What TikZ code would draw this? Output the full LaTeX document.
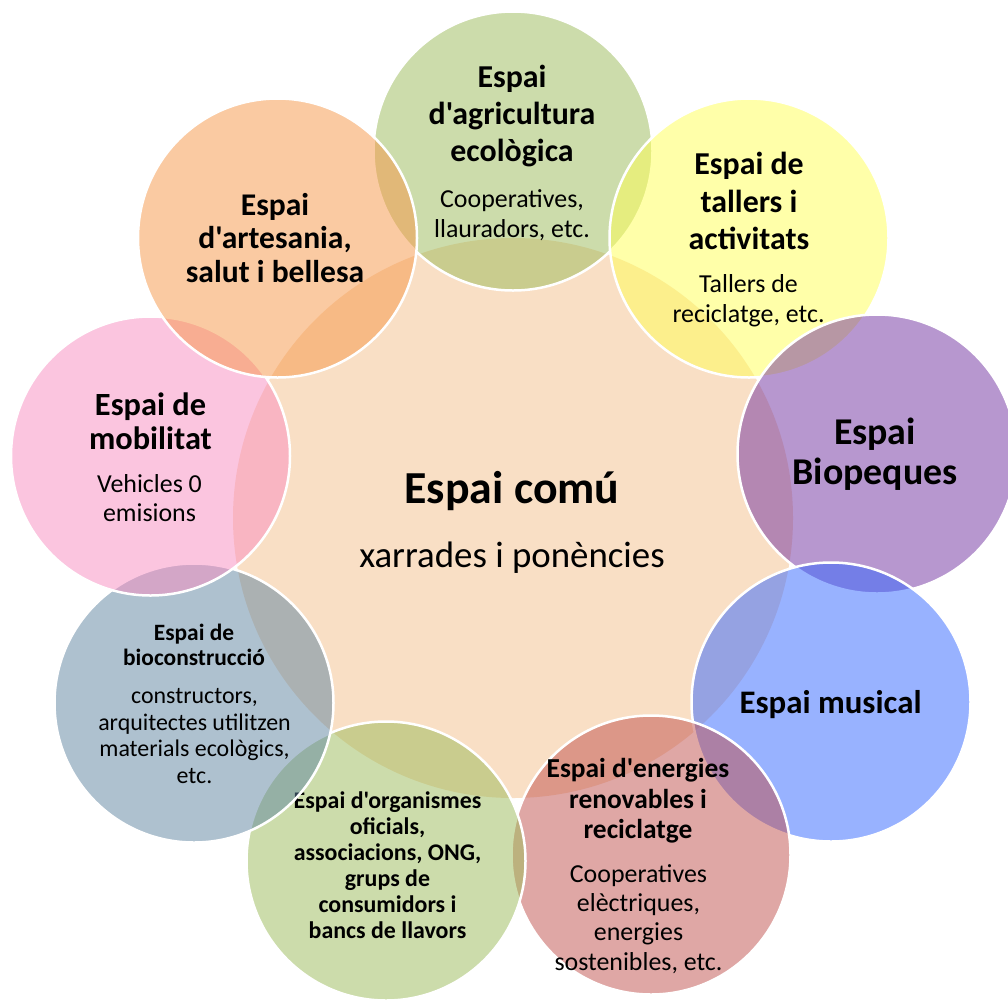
\documentclass[tikz,border=0pt]{standalone}
\usepackage{fontspec}
\setmainfont{Carlito}[Ligatures=TeXOff]
\definecolor{cCentre}{RGB}{249,223,197}
\definecolor{cAgri}{RGB}{155,187,89}
\definecolor{cTall}{RGB}{255,255,85}
\definecolor{cBio}{RGB}{112,48,160}
\definecolor{cMus}{RGB}{51,102,255}
\definecolor{cEner}{RGB}{192,80,77}
\definecolor{cOrg}{RGB}{155,187,89}
\definecolor{cCons}{RGB}{95,133,161}
\definecolor{cMob}{RGB}{249,141,193}
\definecolor{cArt}{RGB}{247,150,70}
\begin{document}
\begin{tikzpicture}[x=1bp,y=-1bp,
  bubble/.style={circle, minimum size=279bp, inner sep=0pt, draw=white, line width=2.5bp, fill opacity=0.5},
  bt/.style 2 args={align=center, inner sep=0pt, text=black, font=\bfseries\fontsize{#1}{#2}\selectfont},
  rt/.style 2 args={align=center, inner sep=0pt, text=black, font=\fontsize{#1}{#2}\selectfont}]
\fill[white] (0,0) rectangle (1008,1005);
\useasboundingbox (0,0) rectangle (1008,1005);

% central circle
\node (centre) [circle, minimum size=560bp, inner sep=0pt, fill=cCentre] at (513,518) {};
\node (centreT) [bt={46}{55}, anchor=base] at (512,503) {Espai comú};
\node (centreS) [rt={37}{44}, anchor=base] at (512,567) {xarrades i ponències};

% agricultura
\node (agri) [bubble, fill=cAgri] at (513,151) {};
\node (agriT) [bt={32}{37}] at (512,116) {Espai\\d'agricultura\\ecològica};
\node (agriS) [rt={26}{30}] at (512,215) {Cooperatives,\\llauradors, etc.};

% tallers
\node (tall) [bubble, fill=cTall] at (749,238) {};
\node (tallT) [bt={32}{37.5}] at (749,201) {Espai de\\tallers i\\activitats};
\node (tallS) [rt={26}{30}] at (748.5,301) {Tallers de\\reciclatge, etc.};

% biopeques
\node (bio) [bubble, fill=cBio] at (877,454) {};
\node (bioT) [bt={38}{40}] at (875,454) {Espai\\Biopeques};

% musical
\node (mus) [bubble, fill=cMus] at (831,702) {};
\node (musT) [bt={33}{40}, anchor=base] at (830.5,713) {Espai musical};

% energies
\node (ener) [bubble, fill=cEner] at (651,855) {};
\node (enerT) [bt={27.5}{30.5}] at (638,801) {Espai d'energies\\renovables i\\reciclatge};
\node (enerS) [rt={26}{29.3}] at (638.5,919) {Cooperatives\\elèctriques,\\energies\\sostenibles, etc.};

% organismes
\node (org) [bubble, fill=cOrg] at (386,861) {};
\node (orgT) [bt={24}{26.2}] at (387.5,865) {Espai d'organismes\\oficials,\\associacions, ONG,\\grups de\\consumidors i\\bancs de llavors};

% bioconstruccio
\node (cons) [bubble, fill=cCons] at (194,703) {};
\node (consT) [bt={23.5}{25}] at (194,645) {Espai de\\bioconstrucció};
\node (consS) [rt={24}{26.7}] at (194.5,736) {constructors,\\arquitectes utilitzen\\materials ecològics,\\etc.};

% mobilitat
\node (mob) [bubble, fill=cMob] at (150.5,456) {};
\node (mobT) [bt={32.5}{34}] at (150.5,421) {Espai de\\mobilitat};
\node (mobS) [rt={26}{29}] at (149.5,498) {Vehicles 0\\emisions};

% artesania
\node (art) [bubble, fill=cArt] at (277.5,238) {};
\node (artT) [bt={31.7}{34}] at (275,238) {Espai\\d'artesania,\\salut i bellesa};
\end{tikzpicture}
\end{document}
